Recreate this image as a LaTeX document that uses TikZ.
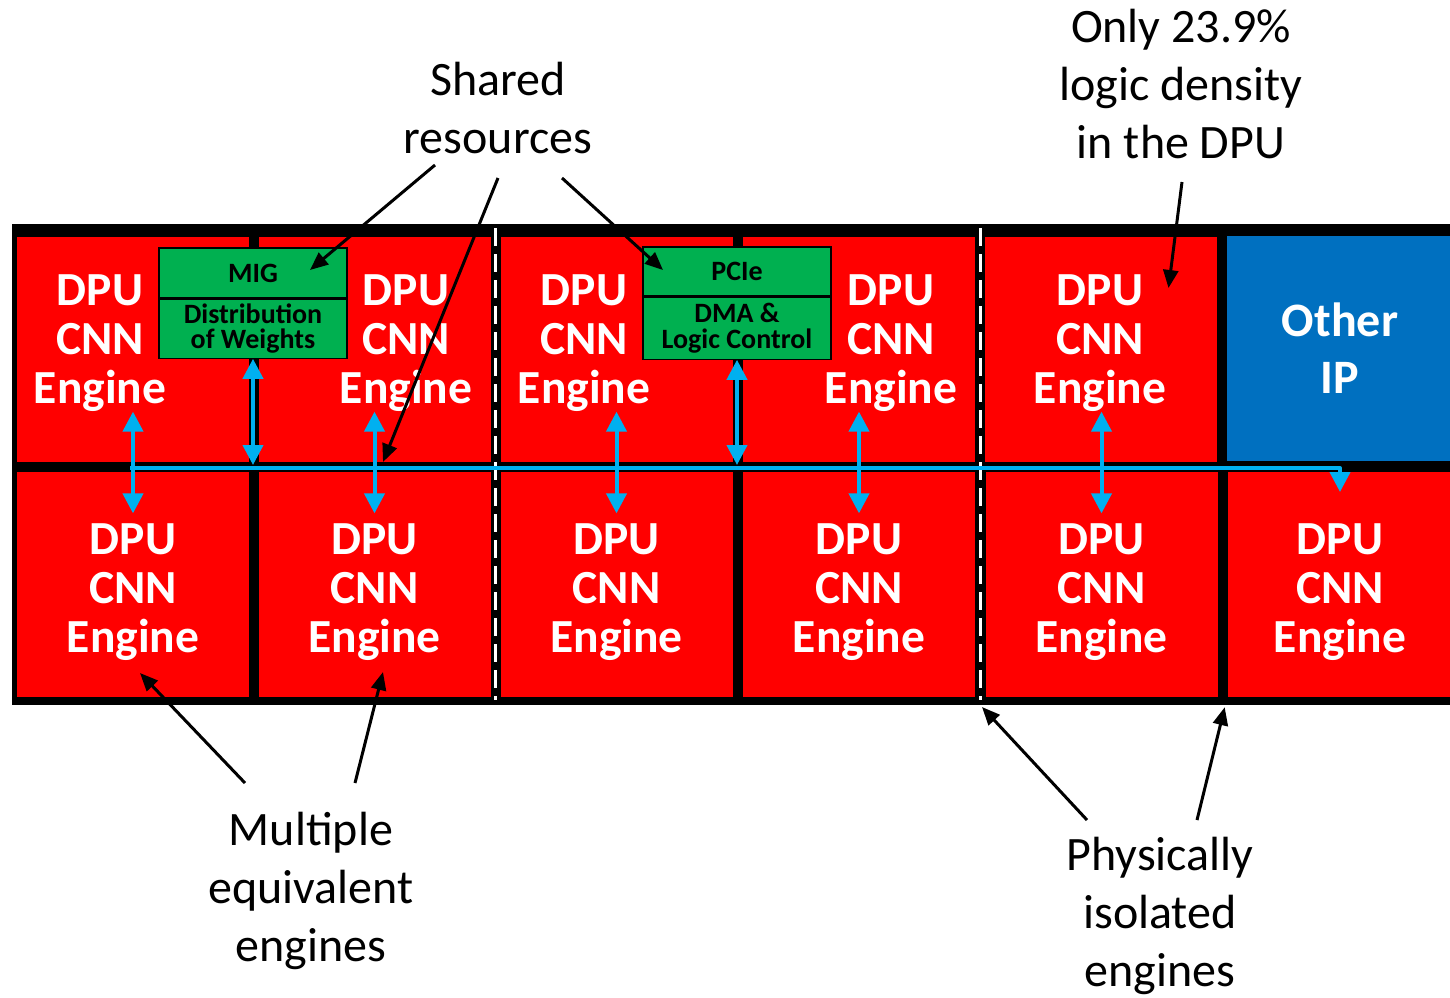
\documentclass[tikz,border=0pt]{standalone}
\usepackage{fontspec}
\setmainfont{Carlito}
\usepackage{xcolor}
\usepackage{tikz}
\usetikzlibrary{arrows.meta}
\definecolor{cellred}{HTML}{FF0000}
\definecolor{shgreen}{HTML}{00B050}
\definecolor{ipblue}{HTML}{0070C0}
\definecolor{busblue}{HTML}{00B0F0}

\begin{document}
\begin{tikzpicture}[x=1pt,y=-1pt,
cell/.style={fill=cellred,inner sep=0pt,minimum width=#1,minimum height=225pt},cell/.default=232pt,
engine/.style={text=white,inner sep=0pt,align=center,font=\bfseries\fontsize{47.5}{49}\selectfont},
greenbox/.style={fill=shgreen,draw=black,line width=1.2pt,inner sep=0pt,minimum width=188pt,align=center,font=\bfseries\fontsize{28}{25.5}\selectfont},
note/.style={inner sep=0pt,align=center,font=\fontsize{48}{58}\selectfont},
noteline/.style={-{Triangle[length=18pt,width=15pt]},line width=3pt},
busline/.style={busblue,line width=4pt},
busarrow/.style={busline,{Triangle[length=20pt,width=20pt]}-{Triangle[length=20pt,width=20pt]}},
splitline/.style={white,line width=3pt,dash pattern=on 18pt off 8pt}]
\useasboundingbox (0,0) rectangle (1450,997);
% the chip
\fill (12,224) rectangle (1452,705);
\foreach \i/\cx/\lx in {1/133/100,2/374.5/406,3/616.5/584,4/859/891,5/1101/1100}{
  \node[cell] (t\i) at (\cx,349.5) {};
  \node[engine] (tl\i) at (\lx,343) {DPU\\CNN\\Engine};
}
\node[cell=226pt,fill=ipblue,engine,font=\bfseries\fontsize{48}{57}\selectfont] (ip) at (1340,348) {Other\\IP};
\foreach \i/\cx/\w in {1/133/232,2/374.5/232,3/616.5/232,4/859/232,5/1101.5/232,6/1340/224}{
  \node[cell=\w pt] (b\i) at (\cx,584.5) {};
  \node[engine] (bl\i) at (\cx,592) {DPU\\CNN\\Engine};
}
% shared resources
\node[greenbox,minimum height=50pt] (mig) at (253,273) {MIG};
\node[greenbox,minimum height=59pt,anchor=north] (migw) at (mig.south) {Distribution\\of Weights};
\node[greenbox,minimum height=49pt] (pcie) at (737,271.5) {PCIe};
\node[greenbox,minimum height=62pt,anchor=north] (dma) at (pcie.south) {DMA \&\\Logic Control};
% isolation lines
\coordinate (d1t) at (495,228);
\coordinate (d1b) at (495,700);
\coordinate (d2t) at (980,228);
\coordinate (d2b) at (980,700);
\draw[splitline] (d1t) -- (d1b);
\draw[splitline] (d2t) -- (d2b);
% bus
\coordinate (busL) at (130,468);
\coordinate (busR) at (1340,468);
\coordinate (busD) at (1340,492);
\draw[busline,line join=round,-{Triangle[length=20pt,width=20pt]}] (busL) -- (busR) -- (busD);
\foreach \i in {1,...,5}
  \draw[busarrow,shorten >=10pt] (bl\i.north |- tl\i.south) -- (bl\i.north);
\draw[busarrow,shorten >=3pt] (migw.south) -- (migw.south |- busL);
\draw[busarrow,shorten >=3pt] (dma.south) -- (dma.south |- busL);
% notes
\node[note] (shared) at (498,108) {Shared\\resources};
\node[note] (density) at (1181,84) {Only 23.9\%\\logic density\\in the DPU};
\node[note] (multi) at (311,891) {Multiple\\equivalent\\engines};
\node[note] (isol) at (1160,916) {Physically\\isolated\\engines};
\draw[noteline] ([shift={(-63,57)}]shared.center) -- ([shift={(57,-3)}]mig.center);
\draw[noteline] ([shift={(0,70)}]shared.center) -- ([shift={(253,-6)}]busL);
\draw[noteline] ([shift={(64,70)}]shared.center) -- ([shift={(-74,-1.5)}]pcie.center);
\draw[noteline] ([shift={(1,98)}]density.center) -- ([shift={(67.5,-61.5)}]t5.center);
\draw[noteline] ([shift={(-66,-108)}]multi.center) -- ([shift={(7,88.5)}]b1.center);
\draw[noteline] ([shift={(44,-108)}]multi.center) -- ([shift={(8.5,87.5)}]b2.center);
\draw[noteline] ([shift={(-73,-96)}]isol.center) -- ([shift={(2,7)}]d2b);
\draw[noteline] ([shift={(37,-96)}]isol.center) -- ([shift={(7,10)}]b5.south east);
\end{tikzpicture}
\end{document}
